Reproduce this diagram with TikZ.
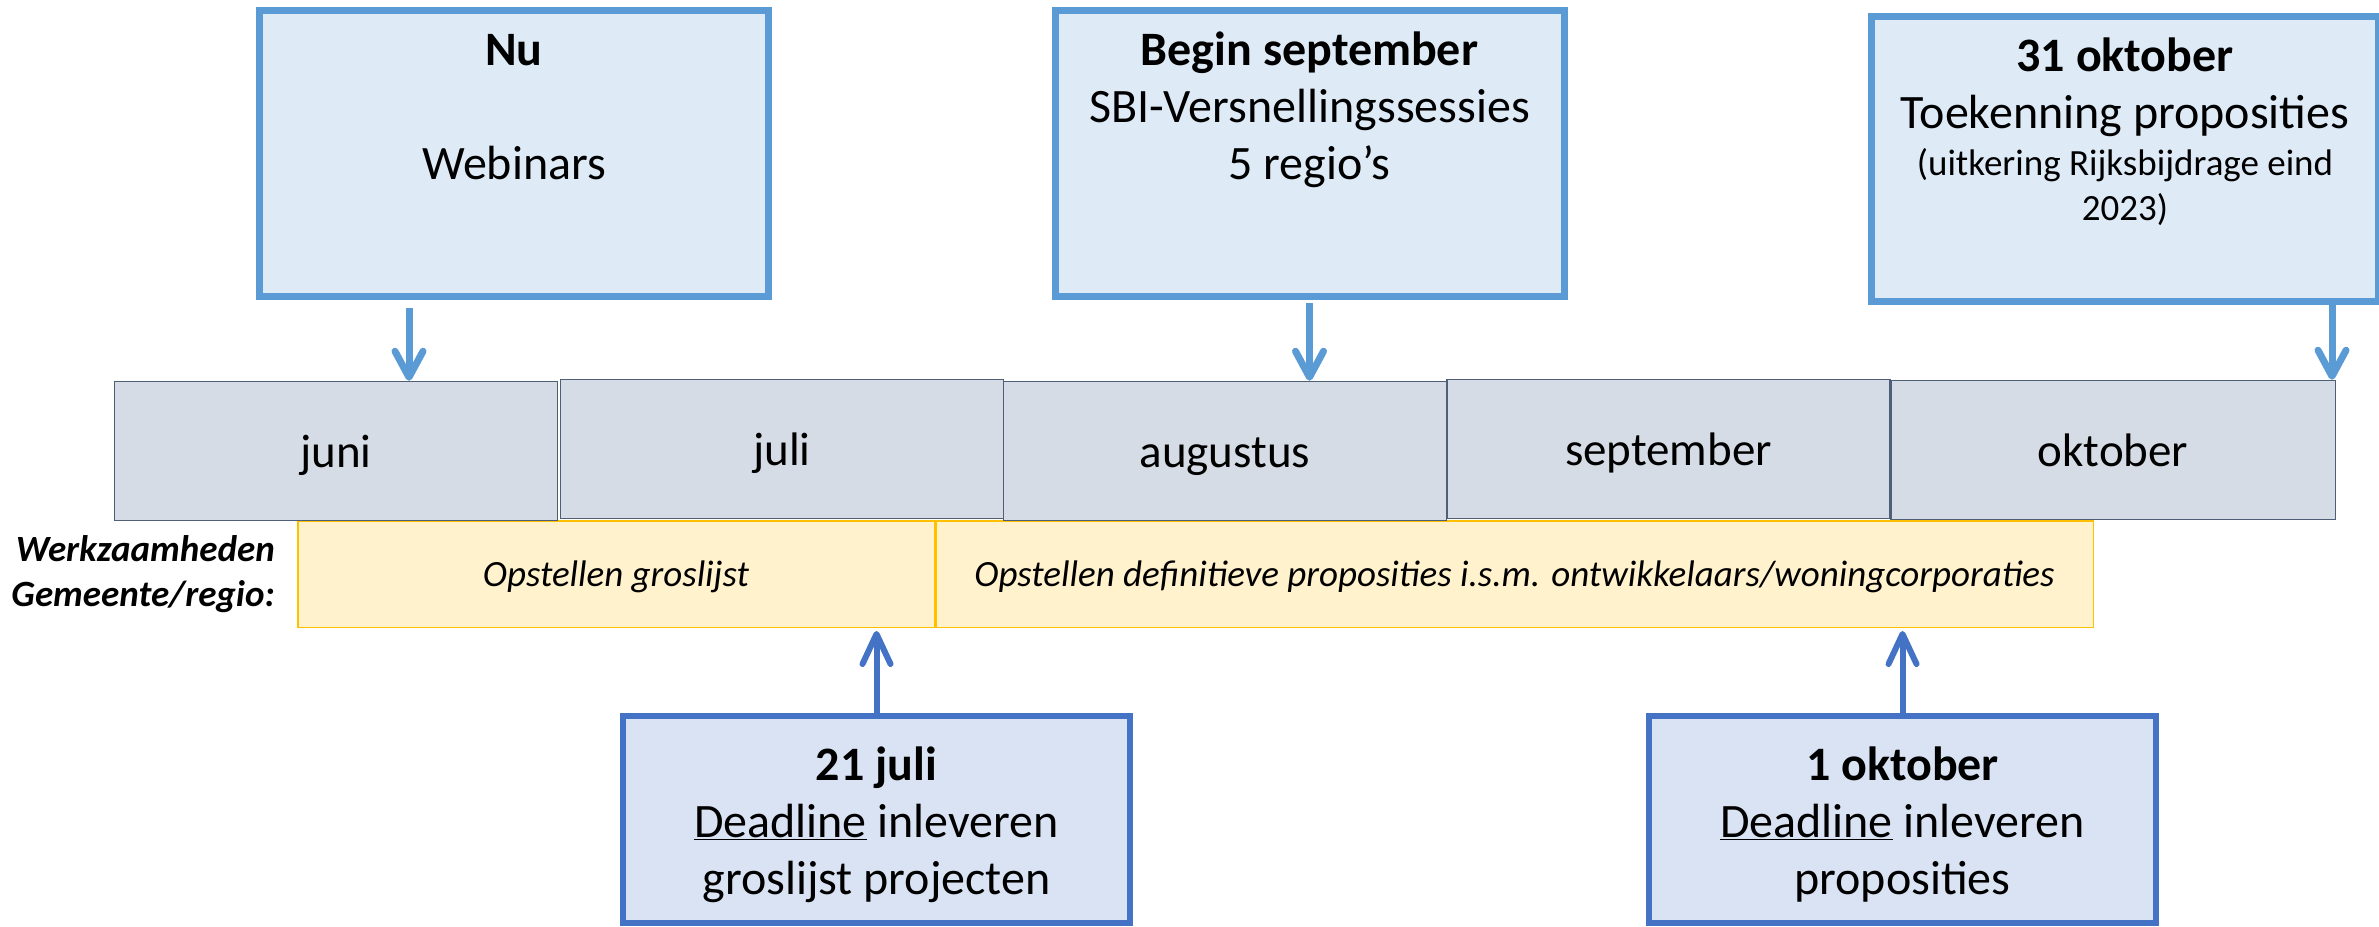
\documentclass[tikz,border=0pt]{standalone}
\usepackage{fontspec}
\setmainfont{Carlito}
\usetikzlibrary{arrows.meta,calc}
\definecolor{topfill}{HTML}{DEEBF7}
\definecolor{topline}{HTML}{5B9BD5}
\definecolor{botfill}{HTML}{DAE3F3}
\definecolor{botline}{HTML}{4472C4}
\definecolor{monfill}{HTML}{D6DCE5}
\definecolor{monline}{HTML}{4F5F78}
\definecolor{yelfill}{HTML}{FFF2CC}
\definecolor{yelline}{HTML}{FFC000}
\newcommand\tstr{\rule{0pt}{40pt}}
\newcommand\sstr{\rule{0pt}{32pt}}
\begin{document}
\begin{tikzpicture}[x=1pt,y=-1pt,
  topbox/.style={draw=topline, fill=topfill, line width=7pt, minimum width=509pt, minimum height=286pt, inner sep=0pt},
  botbox/.style={draw=botline, fill=botfill, line width=6pt, minimum width=507pt, minimum height=207pt, inner sep=0pt},
  month/.style={draw=monline, fill=monfill, line width=1.5pt, minimum width=443pt, minimum height=139pt, inner sep=0pt, text height=34pt, text depth=2pt, font=\fontsize{47}{56}\selectfont},
  ylw/.style={draw=yelline, fill=yelfill, line width=1.5pt, minimum height=106.5pt, inner sep=0pt, text height=26pt, text depth=2pt, font=\fontsize{37}{45}\selectfont\itshape},
  boxtext/.style={anchor=north, align=center, inner sep=0pt, font=\fontsize{48}{57}\selectfont},
  smalltext/.style={anchor=north, align=center, inner sep=0pt, font=\fontsize{37}{45}\selectfont},
  toparr/.style={draw=topline, line width=7pt, -{Straight Barb[length=26pt, width=28pt, round]}},
  botarr/.style={draw=botline, line width=6pt, -{Straight Barb[length=30pt, width=28pt, round]}}
]
\useasboundingbox (0,0) rectangle (2379,926);
\fill[white] (0,0) rectangle (2379,926);

% top boxes
\node[topbox] (nu) at (514,153.5) {};
\node[boxtext] (nutxt) at (514,25) {\tstr\textbf{Nu}\\[57pt]Webinars};
\node[topbox] (begin) at (1309.5,153.5) {};
\node[boxtext] (begintxt) at (1309.5,25) {\tstr\textbf{Begin september}\\SBI-Versnellingssessies\\5 regio’s};
\node[topbox, minimum width=507pt, minimum height=285pt] (okt) at (2125,159) {};
\node[boxtext] (okttxt) at (2125,31) {\tstr\textbf{31 oktober}\\Toekenning proposities};
\node[smalltext] (oktsub) at (2125,143) {\sstr(uitkering Rijksbijdrage eind\\2023)};

% yellow work bars
\node[ylw, minimum width=636.5pt] (ylw1) at (616,574) {Opstellen groslijst};
\node[ylw, minimum width=1157.5pt] (ylw2) at (1514.5,574) {Opstellen definitieve proposities i.s.m. ontwikkelaars/woningcorporaties};
\node[anchor=north east, align=right, inner sep=0pt, font=\fontsize{37}{45}\selectfont\bfseries\itshape] (werk) at (275,529) {\sstr Werkzaamheden\\Gemeente/regio:};

% months
\node[month] (juni) at (336,451) {juni};
\node[month] (juli) at (782,449) {juli};
\node[month] (aug) at (1225,451) {augustus};
\node[month] (sep) at (1668.5,449) {september};
\node[month, minimum width=444.5pt] (oktm) at (2113,450) {oktober};

% bottom boxes
\node[botbox] (jul21) at (876.5,819.5) {};
\node[boxtext] (jul21txt) at (876.5,740) {\tstr\textbf{21 juli}\\\underline{Deadline} inleveren\\groslijst projecten};
\node[botbox] (okt1) at (1902.5,819.5) {};
\node[boxtext] (okt1txt) at (1902.5,740) {\tstr\textbf{1 oktober}\\\underline{Deadline} inleveren\\proposities};

% arrows
\coordinate (a1) at (409,0);
\coordinate (a3) at (2332,0);
\draw[toparr] ($(nu.south -| a1)+(0,8)$) -- (juni.north -| a1);
\draw[toparr] ($(begin.south)+(0,3)$) -- (begin.south |- aug.north);
\draw[toparr] (okt.south -| a3) -- (oktm.north -| a3);
\draw[botarr] (jul21.north) -- ($(jul21.north |- ylw1.south)+(0,3)$);
\draw[botarr] (okt1.north) -- ($(okt1.north |- ylw2.south)+(0,3)$);
\end{tikzpicture}
\end{document}
